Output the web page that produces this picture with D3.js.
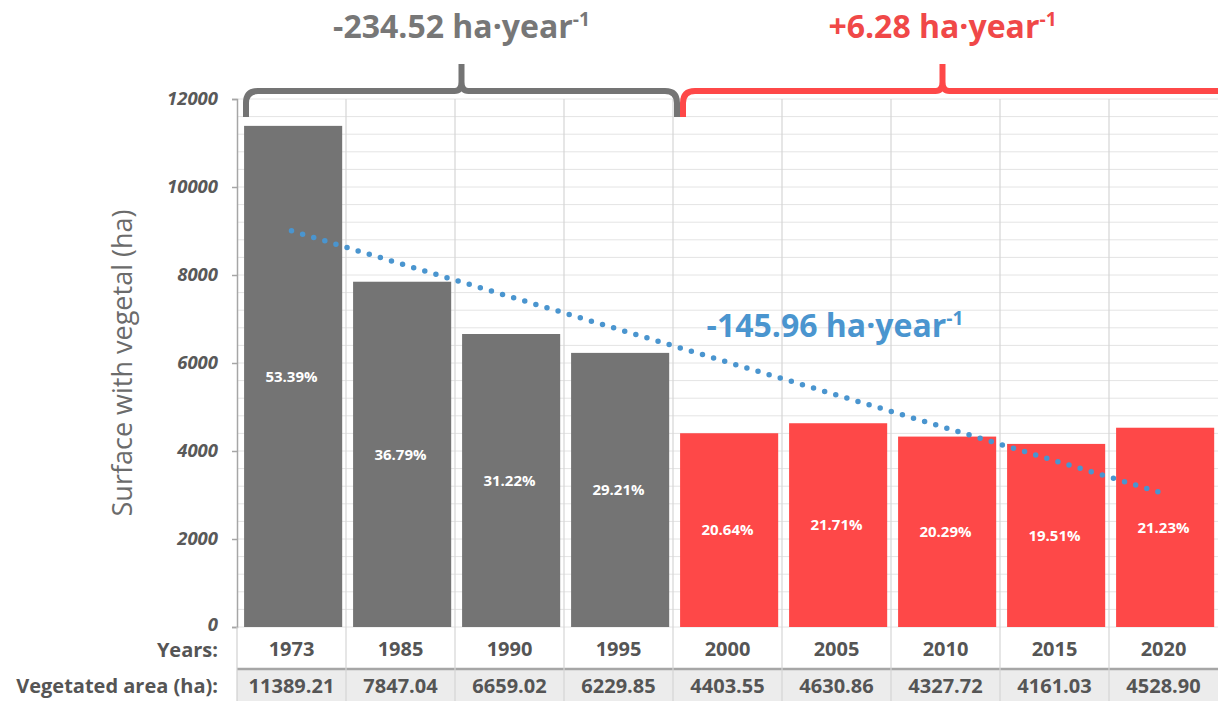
<!DOCTYPE html>
<html>
<head>
<meta charset="utf-8">
<script src="https://cdn.jsdelivr.net/npm/d3@7"></script>
<style>
  body { margin: 0; background: #fff; }
  svg { font-family: "Open Sans", "Noto Sans", sans-serif; }
</style>
</head>
<body>
<div id="chart"></div>
<script>
// data
const years = ["1973", "1985", "1990", "1995", "2000", "2005", "2010", "2015", "2020"];
const area = [11389.21, 7847.04, 6659.02, 6229.85, 4403.55, 4630.86, 4327.72, 4161.03, 4528.90];
const share = ["53.39%", "36.79%", "31.22%", "29.21%", "20.64%", "21.71%", "20.29%", "19.51%", "21.23%"];
const yTicks = [0, 2000, 4000, 6000, 8000, 10000, 12000];
const periodA = ["1973", "1995"];   // gray period
const periodB = ["2000", "2020"];   // red period
const rateA = "-234.52";
const rateB = "+6.28";
const rateAll = "-145.96";

const W = 1218, H = 701;
const gray = "#747474", red = "#fe4848", blue = "#4a95cf";

const svg = d3.select("#chart").append("svg")
  .attr("width", W).attr("height", H);

const x = d3.scaleBand().domain(years).range([237, 1218]);
const y = d3.scaleLinear().domain([0, 12000]).range([627, 99]);
const bw = x.bandwidth();

// minor horizontal grid
svg.append("g").selectAll("line")
  .data(d3.range(0, 12001, 400))
  .join("line")
  .attr("x1", 237).attr("x2", W)
  .attr("y1", d => y(d)).attr("y2", d => y(d))
  .attr("stroke", "#e4e4e4").attr("stroke-width", 1);

// second table row background
svg.append("rect")
  .attr("x", 237).attr("y", 669).attr("width", W - 237).attr("height", H - 669)
  .attr("fill", "#ececec");
svg.append("line")
  .attr("x1", 237).attr("x2", W).attr("y1", 669).attr("y2", 669)
  .attr("stroke", "#a6a6a6").attr("stroke-width", 2.5);

// vertical grid through chart and table
svg.append("g").selectAll("line")
  .data(years.slice(1).map(d => x(d)))
  .join("line")
  .attr("x1", d => d).attr("x2", d => d)
  .attr("y1", 99).attr("y2", H)
  .attr("stroke", "#d6d6d6").attr("stroke-width", 1.2);

// bars
const colorOf = d => (+d >= +periodB[0] ? red : gray);
svg.append("g").selectAll("rect")
  .data(years)
  .join("rect")
  .attr("x", (d) => x(d) + bw * 0.065)
  .attr("width", bw * 0.9)
  .attr("y", (d, i) => y(area[i]))
  .attr("height", (d, i) => y(0) - y(area[i]))
  .attr("fill", colorOf);

// percent labels in bar middles
svg.append("g").selectAll("text")
  .data(years)
  .join("text")
  .attr("x", d => x(d) + bw / 2)
  .attr("y", (d, i) => (y(area[i]) + y(0)) / 2)
  .attr("dy", "0.35em")
  .attr("text-anchor", "middle")
  .attr("fill", "#fff")
  .attr("font-size", 15)
  .attr("font-weight", 700)
  .text((d, i) => share[i]);

// y axis
const yAxis = svg.append("g")
  .attr("transform", "translate(237,0)")
  .call(d3.axisLeft(y).tickValues(yTicks).tickSize(5).tickPadding(14).tickFormat(d3.format("d")));
yAxis.select(".domain").attr("stroke", "#a6a6a6").attr("stroke-width", 1.5);
yAxis.selectAll(".tick line").attr("stroke", "#a6a6a6").attr("stroke-width", 1.5);
yAxis.selectAll(".tick text")
  .attr("font-size", 18.5).attr("font-weight", 700).attr("font-style", "italic")
  .attr("fill", "#595959").attr("font-family", "'Open Sans', sans-serif");
// the zero label sits a touch higher so it clears the table heading
yAxis.selectAll(".tick").filter(d => d === 0).select("text").attr("dy", "0.2em");
svg.append("line")
  .attr("x1", 237).attr("x2", 237).attr("y1", 627).attr("y2", H)
  .attr("stroke", "#d0d0d0").attr("stroke-width", 1.2);

// y axis title
svg.append("text")
  .attr("transform", "translate(132,363) rotate(-90)")
  .attr("text-anchor", "middle")
  .attr("font-size", 27)
  .attr("fill", "#6b6b6b")
  .text("Surface with vegetal (ha)");

// table
svg.append("g").selectAll("text")
  .data(years)
  .join("text")
  .attr("x", d => x(d) + bw / 2)
  .attr("y", 649).attr("dy", "0.35em")
  .attr("text-anchor", "middle")
  .attr("font-size", 20).attr("font-weight", 700).attr("fill", "#555")
  .text(d => d);
svg.append("g").selectAll("text")
  .data(years)
  .join("text")
  .attr("x", d => x(d) + bw / 2)
  .attr("y", 686).attr("dy", "0.35em")
  .attr("text-anchor", "middle")
  .attr("font-size", 20).attr("font-weight", 700).attr("fill", "#555")
  .text((d, i) => area[i].toFixed(2));
svg.append("text")
  .attr("x", 218).attr("y", 650).attr("dy", "0.35em")
  .attr("text-anchor", "end")
  .attr("font-size", 20).attr("font-weight", 700).attr("fill", "#555")
  .text("Years:");
svg.append("text")
  .attr("x", 218).attr("y", 686).attr("dy", "0.35em")
  .attr("text-anchor", "end")
  .attr("font-size", 20).attr("font-weight", 700).attr("fill", "#555")
  .text("Vegetated area (ha):");

// linear trend across all bars (least squares on bar index)
const n = area.length;
const idx = d3.range(n);
const mx = d3.mean(idx), my = d3.mean(area);
const slope = d3.sum(idx, i => (i - mx) * (area[i] - my)) / d3.sum(idx, i => (i - mx) ** 2);
const fit = i => my + slope * (i - mx);
svg.append("line")
  .attr("x1", x(years[0]) + bw / 2).attr("y1", y(fit(0)))
  .attr("x2", x(years[n - 1]) + bw / 2).attr("y2", y(fit(n - 1)))
  .attr("stroke", blue).attr("stroke-width", 5.5)
  .attr("stroke-linecap", "round")
  .attr("stroke-dasharray", "0 11.6");

function rateLabel(g, value, cx, cy, size, color) {
  const t = g.append("text")
    .attr("x", cx).attr("y", cy)
    .attr("text-anchor", "middle")
    .attr("font-size", size).attr("font-weight", 700).attr("fill", color);
  t.append("tspan").text(value + " ha·year");
  t.append("tspan").attr("font-size", size * 0.6).attr("dy", -size * 0.38).text("-1");
}

rateLabel(svg, rateAll, 835, 337, 32, blue);

// braces over the two periods
function brace(x0, x1, xm, color) {
  const top = 91, bottom = 117, peak = 64, r = 12;
  const p = d3.path();
  p.moveTo(x0, bottom);
  p.lineTo(x0, top + r);
  p.quadraticCurveTo(x0, top, x0 + r, top);
  p.lineTo(xm - 7, top);
  p.quadraticCurveTo(xm, top, xm, top - 9);
  p.lineTo(xm, peak);
  p.moveTo(xm, top - 9);
  p.quadraticCurveTo(xm, top, xm + 7, top);
  p.lineTo(x1 - r, top);
  p.quadraticCurveTo(x1, top, x1, top + r);
  p.lineTo(x1, bottom);
  svg.append("path")
    .attr("d", p.toString())
    .attr("fill", "none").attr("stroke", color)
    .attr("stroke-width", 6).attr("stroke-linejoin", "round");
}

const ax0 = x(periodA[0]) + 9, ax1 = x(periodA[1]) + bw + 4;
brace(ax0, ax1, (ax0 + ax1) / 2, gray);
const bx0 = x(periodB[0]) + 10, bx1 = x(periodB[1]) + bw + 16;
const bm = x("2010") + bw / 2 - 3;
brace(bx0, bx1, bm, red);

rateLabel(svg, rateA, (ax0 + ax1) / 2, 38, 32, "#777777");
rateLabel(svg, rateB, bm, 38, 32, "#f04848");
</script>
</body>
</html>
